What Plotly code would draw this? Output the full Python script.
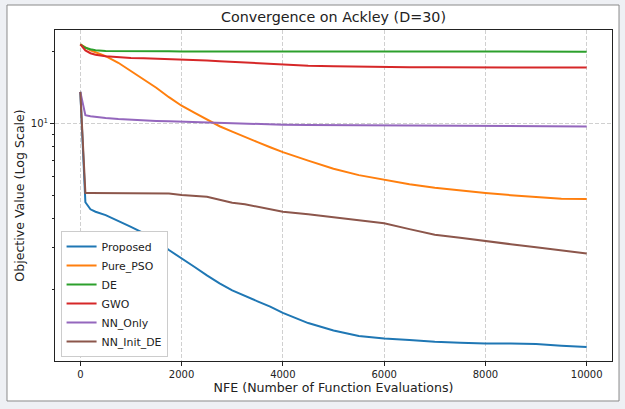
import plotly.graph_objects as go

# NFE checkpoints (shared by all methods)
nfe = [0, 100, 200, 300, 500, 750, 1000, 1250, 1500, 1750, 2000, 2250, 2500, 2750,
       3000, 3250, 3500, 3750, 4000, 4500, 5000, 5500, 6000, 6500, 7000, 7500,
       8000, 8500, 9000, 9500, 10000]

# best objective value per method
proposed = [13.58, 4.67, 4.36, 4.26, 4.12, 3.90, 3.68, 3.46, 3.23, 2.94, 2.70, 2.50, 2.30, 2.13,
            1.99, 1.88, 1.79, 1.70, 1.60, 1.45, 1.35, 1.28, 1.25, 1.23, 1.21, 1.20,
            1.19, 1.19, 1.185, 1.165, 1.15]
pure_pso = [21.5, 20.9, 20.3, 19.94, 19.18, 18.0, 16.59, 15.35, 14.14, 12.9, 11.88, 11.1, 10.42, 9.74,
            9.24, 8.76, 8.35, 7.95, 7.58, 6.98, 6.46, 6.07, 5.81, 5.56, 5.37, 5.22,
            5.11, 5.00, 4.90, 4.83, 4.82]
de = [21.5, 20.8, 20.5, 20.3, 20.17, 20.13, 20.11, 20.1, 20.1, 20.1, 20.09, 20.09, 20.09, 20.08,
      20.08, 20.08, 20.08, 20.07, 20.07, 20.07, 20.07, 20.06, 20.06, 20.06, 20.06, 20.06,
      20.05, 20.05, 20.05, 20.05, 20.05]
gwo = [21.5, 20.3, 19.74, 19.46, 19.18, 18.99, 18.86, 18.8, 18.74, 18.66, 18.57, 18.48, 18.38, 18.28,
       18.18, 18.05, 17.92, 17.79, 17.66, 17.49, 17.41, 17.33, 17.26, 17.24, 17.23, 17.22,
       17.22, 17.21, 17.21, 17.2, 17.2]
nn_only = [13.58, 10.84, 10.73, 10.65, 10.55, 10.45, 10.37, 10.31, 10.25, 10.21, 10.17, 10.15, 10.13, 10.1,
           10.08, 10.0, 9.93, 9.91, 9.89, 9.86, 9.84, 9.82, 9.8, 9.78, 9.77, 9.76,
           9.75, 9.74, 9.73, 9.72, 9.71]
nn_init_de = [13.58, 5.11, 5.11, 5.11, 5.11, 5.11, 5.11, 5.10, 5.10, 5.08, 5.01, 4.97, 4.92, 4.78,
              4.65, 4.58, 4.48, 4.36, 4.26, 4.16, 4.04, 3.94, 3.81, 3.60, 3.41, 3.31,
              3.22, 3.11, 3.02, 2.92, 2.84]

series = [
  ("Proposed", proposed, "#1f77b4"),
  ("Pure_PSO", pure_pso, "#ff7f0e"),
  ("DE", de, "#2ca02c"),
  ("GWO", gwo, "#d62728"),
  ("NN_Only", nn_only, "#9467bd"),
  ("NN_Init_DE", nn_init_de, "#8c564b"),
]

x_ticks = [0, 2000, 4000, 6000, 8000, 10000]
x_tick_text = ["0", "2000", "4000", "6000", "8000", "10000"]
y_major = [10]
y_major_text = ["10<sup>1</sup>"]
y_minor = [2, 3, 4, 5, 6, 7, 8, 9, 20]

FONT = "DejaVu Sans"
INK = "#222222"
GRID = "#d0d0d0"

fig = go.Figure()

for name, vals, color in series:
  fig.add_trace(go.Scatter(
    x=nfe, y=vals, name=name, mode="lines",
    line=dict(color=color, width=2)
  ))

# outer card behind the figure
fig.add_shape(type="rect", xref="paper", yref="paper",
              x0=-0.0862, x1=1.0126, y0=-0.1208, y1=1.0755,
              fillcolor="white", line=dict(color="#8a8a8a", width=1), layer="below")

fig.update_layout(
  width=625, height=409,
  margin=dict(l=55, r=13, t=30, b=48),
  paper_bgcolor="#eef0f4",
  plot_bgcolor="white",
  font=dict(family=FONT, size=10, color=INK),
  title=dict(text="Convergence on Ackley (D=30)", x=0.5, xref="paper",
             y=0.958, yanchor="middle", font=dict(size=14.3, color=INK)),
  showlegend=True,
  legend=dict(x=0.01, y=0.012, xanchor="left", yanchor="bottom",
              bgcolor="white", bordercolor="#cccccc", borderwidth=1,
              font=dict(size=10.9, color=INK), itemwidth=30, tracegroupgap=0),
  xaxis=dict(
    range=[-500, 10500], tickmode="array", tickvals=x_ticks, ticktext=x_tick_text,
    ticks="outside", ticklen=4, tickcolor=INK, tickfont=dict(size=10),
    showline=True, linecolor=INK, linewidth=1, mirror=True,
    showgrid=True, gridcolor=GRID, gridwidth=1, griddash="4px,2px",
    zeroline=False, automargin=False,
    title=dict(text="NFE (Number of Function Evaluations)", font=dict(size=12.6), standoff=3)
  ),
  yaxis=dict(
    type="log", range=[0.002, 1.393],
    tickmode="array", tickvals=y_major, ticktext=y_major_text,
    ticks="outside", ticklen=4, tickcolor=INK, tickfont=dict(size=10),
    minor=dict(tickmode="array", tickvals=y_minor, ticks="outside", ticklen=2,
               tickcolor=INK, showgrid=False),
    showline=True, linecolor=INK, linewidth=1, mirror=True,
    showgrid=True, gridcolor=GRID, gridwidth=1, griddash="4px,2px",
    zeroline=False, automargin=False,
    title=dict(text="Objective Value (Log Scale)", font=dict(size=12.6), standoff=3)
  ),
)

# drop the browser's default body margin so the figure sits at the page corner
fig.write_html("out.html", config={"displayModeBar": False},
               post_script="document.body.style.margin='0px';")
